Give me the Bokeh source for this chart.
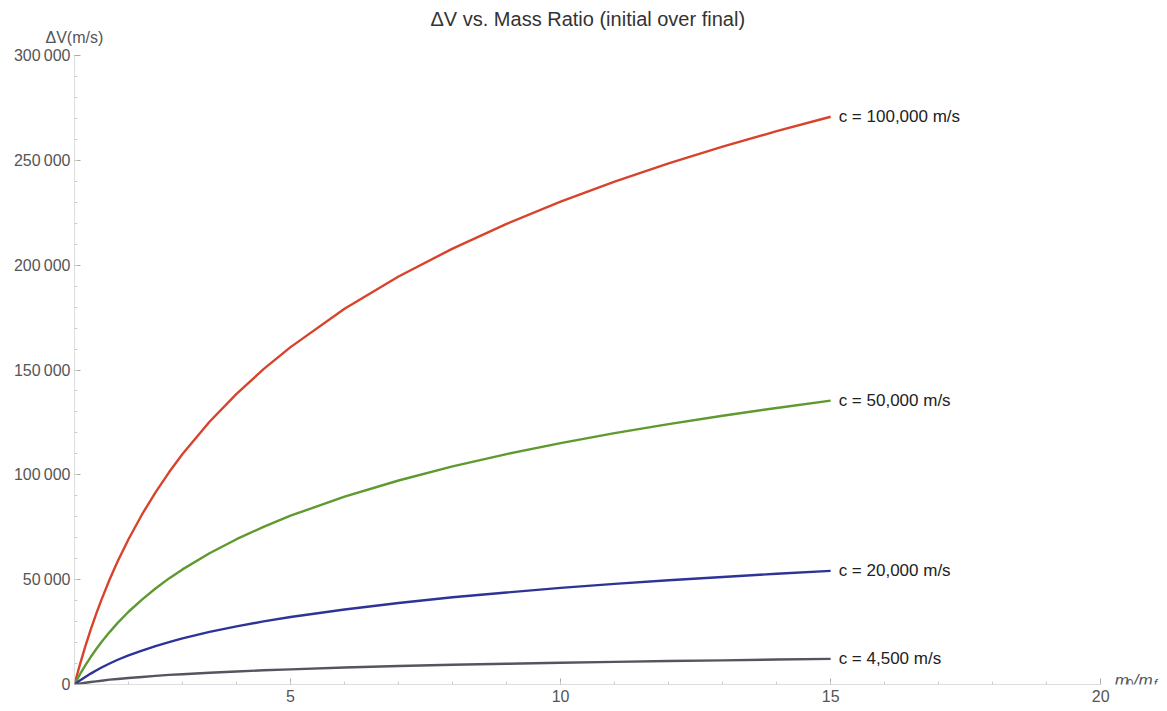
from bokeh.plotting import figure
from bokeh.models import Label, Range1d, FixedTicker, Title
from bokeh.embed import file_html
from bokeh.resources import INLINE

# mass ratio m0/mf sample points
mass_ratio = [1, 1.05, 1.1, 1.2, 1.3, 1.4, 1.5, 1.65, 1.8, 2, 2.25, 2.5, 2.75, 3, 3.5, 4, 4.5, 5,
              6, 7, 8, 9, 10, 11, 12, 13, 14, 15]

dv_100000 = [0, 4900, 9500, 18200, 26200, 33600, 40500, 50100, 58800, 69300, 81100, 91600,
             101200, 109900, 125300, 138600, 150400, 160900, 179200, 194600, 207900, 219700,
             230300, 239800, 248500, 256500, 263900, 270800]
dv_50000 = [0, 2400, 4800, 9100, 13100, 16800, 20300, 25000, 29400, 34700, 40500, 45800,
            50600, 54900, 62600, 69300, 75200, 80500, 89600, 97300, 104000, 109900,
            115100, 119900, 124200, 128200, 131900, 135400]
dv_20000 = [0, 1000, 1900, 3600, 5200, 6700, 8100, 10000, 11800, 13900, 16200, 18300,
            20200, 22000, 25100, 27700, 30100, 32200, 35800, 38900, 41600, 43900,
            46100, 48000, 49700, 51300, 52800, 54200]
dv_4500 = [0, 220, 430, 820, 1200, 1500, 1800, 2300, 2600, 3100, 3600, 4100,
           4600, 4900, 5600, 6200, 6800, 7200, 8100, 8800, 9400, 9900,
           10400, 10800, 11200, 11500, 11900, 12200]

series_labels = ["c = 100,000 m/s", "c = 50,000 m/s", "c = 20,000 m/s", "c = 4,500 m/s"]
series_values = [dv_100000, dv_50000, dv_20000, dv_4500]
series_colors = ["#D8432C", "#5E9A2F", "#2E3497", "#55555F"]

x_ticks = [5, 10, 15, 20]
y_ticks = [0, 50000, 100000, 150000, 200000, 250000, 300000]
y_tick_labels = {0: "0", 50000: "50\u2009000", 100000: "100\u2009000", 150000: "150\u2009000",
                 200000: "200\u2009000", 250000: "250\u2009000", 300000: "300\u2009000"}

FONT = "Liberation Sans"
GRAY = "#555555"

p = figure(width=1167, height=711, output_backend="svg", toolbar_location=None,
           x_range=Range1d(1, 21.2), y_range=Range1d(0, 300000),
           min_border_left=74, min_border_right=2, min_border_top=55, min_border_bottom=27)
p.outline_line_color = None
p.grid.grid_line_color = None
p.background_fill_color = "white"

p.title.text = "\u0394V vs. Mass Ratio (initial over final)"
p.title.align = "left"
p.title.offset = 356
p.title.text_font = FONT
p.title.text_font_size = "20px"
p.title.text_font_style = "normal"
p.title.text_color = "#333333"
p.title.standoff = -26

p.add_layout(Title(text="\u0394V(m/s)", align="left", offset=-29, standoff=20,
                   text_font=FONT, text_font_size="16px", text_font_style="normal",
                   text_color=GRAY), "above")

for vals, col in zip(series_values, series_colors):
    p.line(mass_ratio, vals, line_color=col, line_width=2.4, line_join="round")

for lab, vals in zip(series_labels, series_values):
    p.add_layout(Label(x=mass_ratio[-1], y=vals[-1], x_offset=8, text=lab,
                       text_font=FONT, text_font_size="17px", text_color="#222222",
                       text_baseline="middle", text_align="left"))

for ax in (p.xaxis[0], p.yaxis[0]):
    ax.axis_line_color = "#BBBBBB"
    ax.axis_line_dash = "1 1"
    ax.major_tick_line_color = "#AAAAAA"
    ax.minor_tick_line_color = "#CCCCCC"
    ax.major_tick_in = 6
    ax.major_tick_out = 0
    ax.minor_tick_in = 3
    ax.minor_tick_out = 0
    ax.major_label_text_font = FONT
    ax.major_label_text_font_size = "16px"
    ax.major_label_text_color = GRAY

p.xaxis.bounds = (1, 20)
p.xaxis.ticker = FixedTicker(ticks=x_ticks, minor_ticks=list(range(2, 20)))
p.yaxis.ticker = FixedTicker(ticks=y_ticks, minor_ticks=list(range(10000, 300000, 10000)))
p.yaxis.major_label_overrides = y_tick_labels
p.xaxis.major_label_standoff = 5
p.yaxis.major_label_standoff = 4

# x axis label  m0/mf
xl_parts = [("m", 14, 4, "17px", "italic"), ("0", 26, 1, "12px", "normal"),
            ("/m", 33, 4, "17px", "italic"), ("f", 53, 1, "12px", "italic")]
for txt, dx, dy, fs, st in xl_parts:
    p.add_layout(Label(x=20, y=0, x_offset=dx, y_offset=dy, text=txt, text_font=FONT,
                       text_font_style=st, text_font_size=fs, text_color=GRAY,
                       text_align="left", text_baseline="alphabetic"))

open("out.html", "w").write(file_html(p, INLINE))
